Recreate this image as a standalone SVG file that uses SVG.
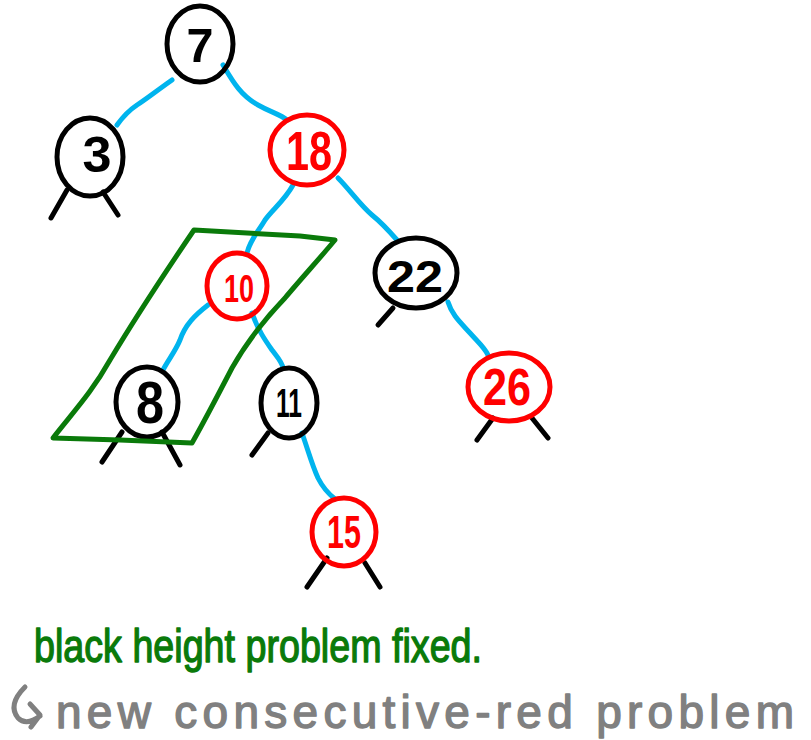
<svg xmlns="http://www.w3.org/2000/svg" width="811" height="740" viewBox="0 0 811 740">
<style>
.node{fill:none;stroke-width:5;stroke-linecap:round}
.blk{stroke:#000}
.red{stroke:#FF0000}
.edge{fill:none;stroke:#00B4EE;stroke-width:5;stroke-linecap:round;stroke-linejoin:round}
.leaf{fill:none;stroke:#000;stroke-width:5;stroke-linecap:round}
.num{font-family:"Liberation Sans",Arial,sans-serif;font-weight:bold;text-anchor:middle}
.tb{fill:#000}
.tr{fill:#FF0000}
.note{font-family:"Liberation Sans",Arial,sans-serif;font-size:46px;stroke-width:1.4;stroke-linejoin:round}
</style>
<rect width="811" height="740" fill="#fff"/>
<g id="connectors">
<path class="edge" d="M172,80 C155,92 145,100 137,105 C128,111 122,118 117,125"/>
<path class="edge" d="M223,65 C232,80 240,95 258,105 C272,113 280,114 287,120"/>
<path class="edge" d="M293,185 C285,200 272,210 265,220 C258,232 250,240 247,253"/>
<path class="edge" d="M338,178 C350,190 360,205 372,215 C382,223 390,232 397,240"/>
<path class="edge" d="M208,305 C195,315 185,325 180,340 C175,352 168,360 163,370"/>
<path class="edge" d="M252,313 C258,330 265,340 272,350 C278,358 282,362 283,368"/>
<path class="edge" d="M302,433 C308,450 312,465 318,478 C324,490 330,495 335,499"/>
<path class="edge" d="M448,302 C452,315 460,322 470,333 C478,342 485,348 488,355"/>
</g>
<g id="leaves">
<path class="leaf" d="M67,190 L51,218 M103,192 L118,215"/>
<path class="leaf" d="M122,432 L102,462 M162,432 L180,465"/>
<path class="leaf" d="M268,433 L252,455"/>
<path class="leaf" d="M393,308 L378,325"/>
<path class="leaf" d="M493,418 L477,440 M532,418 L548,438"/>
<path class="leaf" d="M327,558 L307,587 M365,563 L380,587"/>
</g>
<g id="n7"><ellipse class="node blk" cx="200" cy="44" rx="33" ry="38"/><text class="num tb" x="200" y="62" font-size="48" textLength="27" lengthAdjust="spacingAndGlyphs">7</text></g>
<g id="n3"><ellipse class="node blk" cx="90" cy="157" rx="33" ry="39"/><text class="num tb" x="97" y="172" font-size="50" textLength="29" lengthAdjust="spacingAndGlyphs">3</text></g>
<g id="n18"><ellipse class="node red" cx="307" cy="150" rx="37" ry="35"/><text class="num tr" x="309" y="170" font-size="56" textLength="46" lengthAdjust="spacingAndGlyphs">18</text></g>
<g id="n10"><ellipse class="node red" cx="237" cy="286" rx="30" ry="33"/><text class="num tr" x="239" y="302" font-size="38" textLength="30" lengthAdjust="spacingAndGlyphs">10</text></g>
<g id="n22"><ellipse class="node blk" cx="416" cy="273" rx="41" ry="35"/><text class="num tb" x="415" y="292" font-size="44" textLength="56" lengthAdjust="spacingAndGlyphs">22</text></g>
<g id="n8"><ellipse class="node blk" cx="147" cy="402" rx="31" ry="35"/><text class="num tb" x="150" y="423" font-size="60" textLength="28" lengthAdjust="spacingAndGlyphs">8</text></g>
<g id="n11"><ellipse class="node blk" cx="289" cy="403" rx="28" ry="35"/><text class="num tb" x="289" y="417" font-size="40" textLength="26" lengthAdjust="spacingAndGlyphs">11</text></g>
<g id="n26"><ellipse class="node red" cx="509" cy="387" rx="41" ry="34"/><text class="num tr" x="507" y="405" font-size="52" textLength="48" lengthAdjust="spacingAndGlyphs">26</text></g>
<g id="n15"><ellipse class="node red" cx="344" cy="532" rx="32" ry="34"/><text class="num tr" x="344" y="548" font-size="46" textLength="34" lengthAdjust="spacingAndGlyphs">15</text></g>
<g id="highlight">
<path fill="none" stroke="#0A7A0A" stroke-width="5" stroke-linejoin="round" stroke-linecap="round" d="M194,230 L300,236 L335,240 C320,258 300,280 285,298 C262,322 245,345 232,368 C218,395 205,420 192,443 L120,440 L53,438 C75,410 92,392 110,360 C128,330 160,280 194,230 Z"/>
</g>
<g id="labels">
<text class="note" x="34" y="662" font-size="48" fill="#0A7A0A" stroke="#0A7A0A" textLength="448" lengthAdjust="spacingAndGlyphs">black height problem fixed.</text>
<path fill="none" stroke="#808080" stroke-width="5" stroke-linecap="round" stroke-linejoin="round" d="M25,687 C15,697 10,708 18,718 C24,724 32,722 40,716 M30,704 L40,715 L31,727"/>
<text class="note" x="56" y="728" fill="#808080" stroke="#808080" textLength="738" lengthAdjust="spacing">new consecutive-red problem</text>
</g>
</svg>
